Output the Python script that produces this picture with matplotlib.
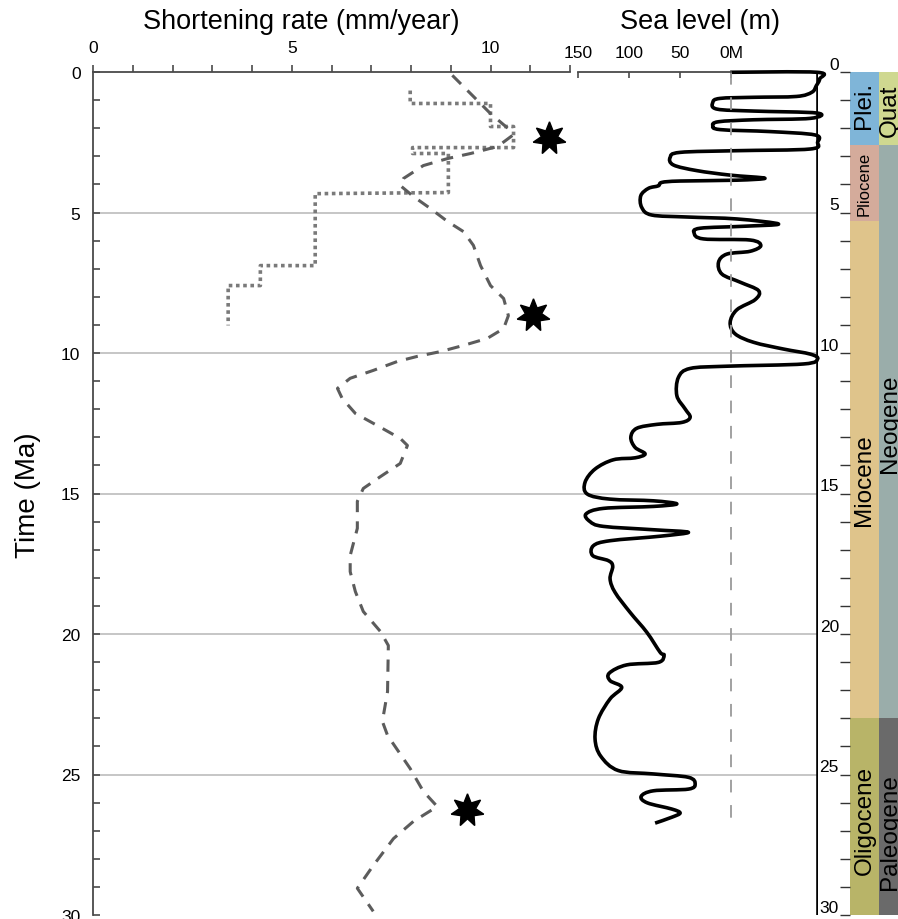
import matplotlib
matplotlib.use('Agg')
import matplotlib.pyplot as plt
from matplotlib.path import Path
from matplotlib.patches import PathPatch

plt.rcParams['font.family'] = ['Liberation Sans', 'DejaVu Sans']

# ---------------- data ----------------
# Shortening rate, dashed curve
rate_age = [0.12, 0.87, 1.48, 2.08, 2.26, 2.65, 2.90, 3.08, 3.33, 3.79,
            4.04, 4.43, 4.86, 5.32, 5.68, 6.17, 6.89, 7.60, 8.06, 8.67,
            9.13, 9.48, 9.73, 9.95, 10.12, 10.30, 10.62, 10.90, 11.26, 11.62,
            12.15, 12.58, 13.04, 13.29, 13.93, 14.40, 14.82, 15.28, 16.24, 17.21,
            17.78, 18.49, 19.20, 19.91, 20.41, 22.05, 23.11, 23.61, 24.79, 25.60,
            26.14, 26.67, 27.28, 28.24, 29.05, 29.87]
rate_val = [9.04, 9.57, 10.0, 10.5, 10.55, 10.18, 9.5, 8.92, 8.31, 7.81,
            7.73, 8.06, 8.49, 8.92, 9.32, 9.57, 9.75, 10.0, 10.33, 10.45,
            10.33, 9.92, 9.32, 8.74, 8.16, 7.66, 7.05, 6.47, 6.15, 6.27,
            6.60, 7.15, 7.73, 7.91, 7.73, 7.23, 6.80, 6.65, 6.65, 6.47,
            6.47, 6.60, 6.80, 7.23, 7.43, 7.41, 7.28, 7.41, 7.98, 8.31,
            8.66, 8.06, 7.56, 7.05, 6.65, 7.05]

# Shortening rate, stepped dotted curve
step_age = [0.66, 1.12, 1.12, 1.94, 1.94, 2.69, 2.69, 2.90, 2.90, 4.29,
            4.33, 6.89, 6.89, 7.60, 7.60, 9.02]
step_val = [7.98, 7.98, 10.0, 10.0, 10.58, 10.58, 8.04, 8.04, 8.94, 8.94,
            5.59, 5.59, 4.21, 4.21, 3.40, 3.40]

# Stars
star_age = [2.36, 8.63, 26.28]
star_val = [11.46, 11.06, 9.42]

# Sea level curve
sea_age = [0.01, 0.01, 0.25, 0.49, 0.72, 0.87, 0.90, 0.94, 1.08, 1.32,
           1.39, 1.46, 1.65, 1.70, 1.77, 1.91, 2.05, 2.12, 2.24, 2.50,
           2.74, 2.80, 2.86, 3.04, 3.31, 3.51, 3.67, 3.78, 3.85, 3.88,
           3.93, 4.05, 4.14, 4.40, 4.82, 5.09, 5.16, 5.23, 5.41, 5.49,
           5.56, 5.73, 5.94, 5.98, 6.18, 6.38, 6.48, 6.77, 7.19, 7.48,
           7.78, 8.10, 8.46, 8.91, 9.32, 9.62, 9.86, 10.04, 10.21, 10.39,
           10.47, 10.55, 10.87, 11.52, 11.99, 12.29, 12.47, 12.54, 12.68, 13.0,
           13.36, 13.59, 13.73, 13.80, 14.13, 14.60, 15.02, 15.20, 15.26, 15.37,
           15.46, 15.53, 15.73, 16.0, 16.17, 16.29, 16.38, 16.52, 16.68, 16.86,
           17.21, 17.39, 17.59, 18.04, 18.52, 19.23, 19.94, 20.65, 20.75, 21.01,
           21.10, 21.39, 21.66, 21.90, 22.31, 23.02, 23.74, 24.35, 24.86, 24.98,
           25.10, 25.34, 25.52, 25.58, 25.78, 26.01, 26.23, 26.37, 26.52, 26.73]
sea_val = [1, -84, -86.6, -83.3, -79, -64, -22, 11, 18, 14,
           -22, -84, -77.5, -22, 12.4, 18, 10.8, -38, -82, -84.6,
           -77.5, -5.6, 50, 59.8, 56.5, 33.6, 1, -33, -5.6, 50,
           68, 71.3, 81, 88.5, 87.6, 77.8, 43.4, -5.6, -46.4, -12,
           30.4, 36.3, 27.1, -18.6, -29, -18.6, 4.2, 12.4, 9.1, -8.8,
           -26.8, -23.5, -5.6, 1, -3.9, -22, -51.3, -77.5, -84.6, -70.9,
           4.2, 40.2, 51.7, 53.2, 45.1, 40.2, 48.3, 72.8, 92.5, 98.3,
           94.1, 84.3, 94.1, 115.4, 133.3, 143.1, 140.9, 118.6, 76.2, 53.2,
           76.2, 125.2, 142.2, 138.2, 125.2, 76.2, 41.9, 69.6, 118.6, 135,
           135.6, 120.3, 116, 118.6, 113.7, 99, 82.6, 69.6, 65.7, 71.3,
           102.3, 119.3, 118.6, 107.2, 118.6, 130.1, 133.3, 127.7, 110.5, 76.2,
           41.9, 35.3, 41.9, 76.2, 88.2, 82.1, 58.1, 50, 58.1, 74.5]
sea_ref_end = 26.57      # end of 0 m dashed reference line
sea_right = -85          # right frame of the sea-level panel

# Geologic time scale
epoch_names = ["Plei.", "Pliocene", "Miocene", "Oligocene"]
epoch_start = [0.0, 2.6, 5.3, 23.0]
epoch_end = [2.6, 5.3, 23.0, 30.0]
epoch_colors = ["#7fb5d8", "#d4ab9b", "#dfc48b", "#b8b468"]
epoch_label_age = [1.15, 3.95, 14.5, 26.6]

period_names = ["Quat", "Neogene", "Paleogene"]
period_start = [0.0, 2.6, 23.0]
period_end = [2.6, 23.0, 30.0]
period_colors = ["#cfd890", "#9aadaa", "#6a6a6a"]
period_label_age = [1.35, 12.5, 27.0]

grid_ages = [5, 10, 15, 20, 25]

# ---------------- layout ----------------
W, H = 898, 920
fig = plt.figure(figsize=(W / 100, H / 100), dpi=100)
y_top, y_bot = 73, 916


def rect(x0, x1):
    return [x0 / W, 1 - y_bot / H, (x1 - x0) / W, (y_bot - y_top) / H]


def smooth_path(xs, ys):
    """Catmull-Rom curve through the given data points (drawn as Bezier)."""
    pts = list(zip(xs, ys))
    n = len(pts)
    verts = [pts[0]]
    codes = [Path.MOVETO]
    for i in range(n - 1):
        p0 = pts[i - 1] if i > 0 else pts[i]
        p1 = pts[i]
        p2 = pts[i + 1]
        p3 = pts[i + 2] if i + 2 < n else pts[i + 1]
        c1 = (p1[0] + (p2[0] - p0[0]) / 6, p1[1] + (p2[1] - p0[1]) / 6)
        c2 = (p2[0] - (p3[0] - p1[0]) / 6, p2[1] - (p3[1] - p1[1]) / 6)
        verts += [c1, c2, p2]
        codes += [Path.CURVE4] * 3
    return Path(verts, codes)


spine_col = '#4a4a4a'

# background grid axes
axg = fig.add_axes(rect(93, 818))
axg.set_xlim(0, 1)
axg.set_ylim(30, 0)
axg.axis('off')
for t in grid_ages:
    axg.axhline(t, color='#c6c6c6', lw=1.4, zorder=0)

# shortening-rate axes
ax = fig.add_axes(rect(93, 570))
ax.patch.set_alpha(0)
ax.set_xlim(0, 12)
ax.set_ylim(30, 0)
ax.xaxis.tick_top()
ax.set_xticks([0, 5, 10])
ax.set_xticks(range(13), minor=True)
ax.set_yticks(range(0, 31, 5))
ax.set_yticks(range(31), minor=True)
for s in ['bottom', 'right']:
    ax.spines[s].set_visible(False)
for s in ['top', 'left']:
    ax.spines[s].set_color(spine_col)
    ax.spines[s].set_linewidth(1.3)
ax.tick_params(axis='x', which='both', direction='out', length=5, width=1.2,
               color=spine_col, labelsize=12.5, pad=7)
ax.tick_params(axis='y', which='both', direction='in', length=5, width=1.2,
               color=spine_col, labelsize=12.5, pad=9)

ax.plot(step_val, step_age, color='#7a7a7a', lw=2.6, linestyle=(0, (1, 1)),
        solid_joinstyle='miter')
ax.plot(rate_val, rate_age, color='#5c5c5c', lw=2.2, dashes=(4, 3))
ax.plot(star_val, star_age, linestyle='none', marker=(7, 1, 0),
        markersize=24, color='black', clip_on=False)

# sea-level axes
axs = fig.add_axes(rect(578, 818))
axs.patch.set_alpha(0)
axs.set_xlim(150, sea_right)
axs.set_ylim(30, 0)
axs.xaxis.tick_top()
axs.set_xticks([150, 100, 50, 0])
axs.set_xticklabels(['150', '100', '50', '0M'])
axs.set_yticks([])
for s in ['bottom', 'right', 'left']:
    axs.spines[s].set_visible(False)
axs.spines['top'].set_bounds(150, 0)
axs.spines['top'].set_color(spine_col)
axs.spines['top'].set_linewidth(1.3)
axs.tick_params(axis='x', direction='in', length=4, width=1.2,
                color=spine_col, labelsize=12.5, pad=9)
axs.plot([0, 0], [0, sea_ref_end], color='#9a9a9a', lw=1.3, dashes=(7, 7))
axs.axvline(sea_right, color='black', lw=2.6)
axs.add_patch(PathPatch(smooth_path(sea_val, sea_age), facecolor='none',
                        edgecolor='black', lw=2.6, joinstyle='round',
                        clip_on=False))

# time-scale axes
axt = fig.add_axes(rect(850, 898))
axt.set_xlim(0, 48 / 29)
axt.set_ylim(30, 0)
for s in axt.spines.values():
    s.set_visible(False)
axt.set_xticks([])
axt.set_yticks(range(0, 31, 5))
axt.set_yticks(range(31), minor=True)
axt.tick_params(axis='y', which='both', direction='out', length=7, width=1.0,
                color='#333333', labelsize=12.5, pad=1)
for lbl in axt.get_yticklabels():
    lbl.set_verticalalignment('bottom')

for name, a0, a1, c, la in zip(epoch_names, epoch_start, epoch_end,
                               epoch_colors, epoch_label_age):
    axt.barh(a0, 1, height=a1 - a0, left=0, align='edge', color=c, lw=0)
    axt.text(0.5, la, name, rotation=90, ha='center', va='center',
             fontsize=12 if name == 'Pliocene' else 17.5)
for name, a0, a1, c, la in zip(period_names, period_start, period_end,
                               period_colors, period_label_age):
    axt.barh(a0, 1, height=a1 - a0, left=1, align='edge', color=c, lw=0)
    axt.text(1.38, la, name, rotation=90, ha='center', va='center',
             fontsize=17.5)

# titles
fig.text(301 / W, 1 - 22 / H, 'Shortening rate (mm/year)', ha='center',
         va='center', fontsize=19.5)
fig.text(700 / W, 1 - 22 / H, 'Sea level (m)', ha='center', va='center',
         fontsize=19.5)
fig.text(28 / W, 1 - 495 / H, 'Time (Ma)', ha='center', va='center',
         rotation=90, fontsize=20)

fig.savefig('out.png', dpi=100)
